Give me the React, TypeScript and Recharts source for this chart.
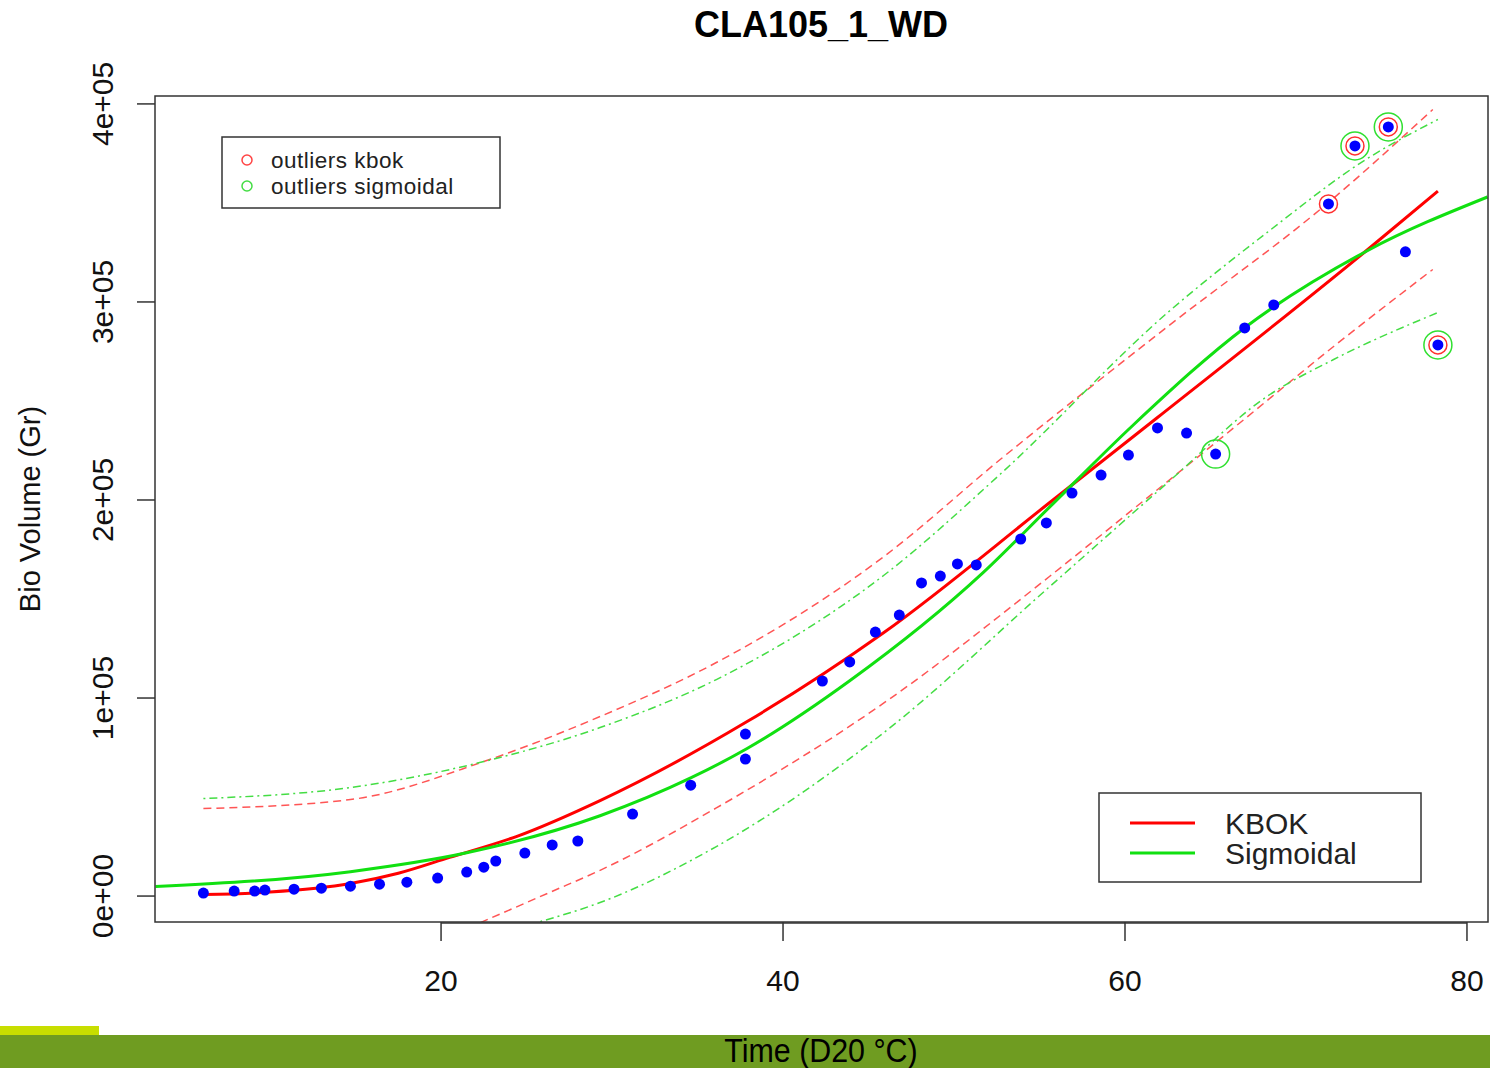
import React from 'react';
import { ComposedChart, Line, Scatter, XAxis, YAxis } from 'recharts';

// observed bio volume
const timeValues = [6.1, 7.9, 9.1, 9.7, 11.4, 13.0, 14.7, 16.4, 18.0, 19.8, 21.5, 22.5, 23.2, 24.9, 26.5, 28.0, 31.2, 34.6, 37.8, 37.8, 42.3, 43.9, 45.4, 46.8, 48.1, 49.2, 50.2, 51.3, 53.9, 55.4, 56.9, 58.6, 60.2, 61.9, 63.6, 65.3, 67.0, 68.7, 71.9, 73.45, 75.4, 76.4, 78.3];
const bioVolume = [1500, 2500, 2500, 3000, 3500, 4000, 5000, 6000, 7000, 9100, 12100, 14600, 17700, 21700, 25800, 27800, 41400, 56000, 81800, 69200, 108600, 118200, 133300, 141900, 158100, 161600, 167700, 167200, 180300, 188400, 203500, 212600, 222700, 236400, 233800, 223200, 286900, 298500, 349500, 378800, 388400, 325300, 278300];
const outliersKbok = [38, 39, 40, 42];
const outliersSigmoidal = [35, 39, 40, 42];

// KBOK fit and its band
const kbokTime = [6.1, 10.0, 14.7, 17.5, 20.5, 24.4, 29.3, 37.9, 45.9, 55.6, 61.9, 74.2, 78.3];
const kbokFit = [800, 2000, 6300, 11500, 19500, 30050, 48230, 88120, 133070, 198720, 241640, 326480, 356000];
const kbokUpperTime = [6.1, 14.7, 22.5, 29.3, 36.1, 45.9, 52.7, 62.5, 71.9, 78.0];
const kbokUpper = [44190, 48730, 67920, 90650, 117920, 171450, 220430, 287600, 350220, 397180];
const kbokLowerTime = [22.3, 26.4, 29.3, 36.1, 45.9, 55.6, 60.5, 66.3, 72.2, 78.0];
const kbokLower = [-13400, 2000, 13000, 44500, 97500, 161500, 195500, 236000, 277500, 316400];

// sigmoidal fit and its band
const sigTime = [3.3, 14.7, 21.5, 29.3, 34.6, 37.9, 43.9, 51.7, 55.6, 60.5, 67.0, 74.2, 81.2];
const sigFit = [4800, 12320, 21840, 40560, 59640, 74490, 108690, 163290, 196500, 238000, 287000, 326000, 353000];
const sigUpperTime = [6.1, 14.7, 22.5, 29.3, 36.1, 45.9, 52.7, 62.5, 68.3, 74.1, 78.3];
const sigUpper = [49240, 54790, 67920, 85090, 109330, 162000, 213000, 294670, 335000, 372000, 392130];
const sigLowerTime = [25.8, 29.3, 36.1, 45.9, 55.6, 62.5, 68.3, 72.2, 78.3];
const sigLower = [-12900, -3280, 25000, 82570, 156300, 208820, 252250, 270930, 294670];

const xTicks = [20, 40, 60, 80];
const yTicks = [0, 100000, 200000, 300000, 400000];
const yTickLabels = ['0e+00', '1e+05', '2e+05', '3e+05', '4e+05'];

const zip = (xs: number[], ys: number[]) => xs.map((x, i) => ({ x, y: ys[i] }));

const points = zip(timeValues, bioVolume);
const kbokPts = outliersKbok.map((i) => points[i]);
const sigPts = outliersSigmoidal.map((i) => points[i]);

const FONT = '"Liberation Sans", Arial, sans-serif';

const XTick = (props: any) => {
  const { x, y, payload } = props;
  return (
    <text x={x} y={y + 37} textAnchor="middle" dominantBaseline="central" fontSize={30} fontFamily={FONT} fill="#111">
      {payload.value}
    </text>
  );
};

const YTick = (props: any) => {
  const { x, y, payload } = props;
  const label = yTickLabels[yTicks.indexOf(payload.value)];
  return (
    <text transform={`translate(${x - 35},${y}) rotate(-90)`} textAnchor="middle" dominantBaseline="central" fontSize={30} fontFamily={FONT} fill="#111">
      {label}
    </text>
  );
};

const dot = (props: any) => <circle cx={props.cx} cy={props.cy} r={5.5} fill="#0000ff" />;
const redRing = (props: any) => <circle cx={props.cx} cy={props.cy} r={9} fill="none" stroke="#ff3030" strokeWidth={1.5} />;
const greenRing = (props: any) => <circle cx={props.cx} cy={props.cy} r={14} fill="none" stroke="#30e030" strokeWidth={1.5} />;

export default function App() {
  return (
    <div style={{ position: 'absolute', left: 0, top: 0, width: 1490, height: 1068, background: '#fff', overflow: 'hidden' }}>
      <ComposedChart width={1490} height={1035} margin={{ top: 96, right: 2, bottom: 0, left: 0 }}>
        <XAxis
          type="number"
          dataKey="x"
          domain={[3.27, 81.23]}
          ticks={xTicks}
          allowDataOverflow
          height={113}
          tickSize={19}
          tickLine={{ stroke: '#333', strokeWidth: 1.5 }}
          axisLine={false}
          tick={XTick}
        />
        <YAxis
          type="number"
          dataKey="y"
          domain={[-13100, 404000]}
          ticks={yTicks}
          allowDataOverflow
          width={155}
          tickSize={18}
          tickMargin={0}
          tickLine={{ stroke: '#333', strokeWidth: 1.5 }}
          axisLine={false}
          tick={YTick}
        />
        <Scatter data={points} shape={dot} isAnimationActive={false} />
        <Scatter data={kbokPts} shape={redRing} isAnimationActive={false} />
        <Scatter data={sigPts} shape={greenRing} isAnimationActive={false} />
        <Line data={zip(kbokUpperTime, kbokUpper)} dataKey="y" type="monotone" dot={false} stroke="#ff5555" strokeWidth={1.5} strokeDasharray="8 5" isAnimationActive={false} />
        <Line data={zip(kbokLowerTime, kbokLower)} dataKey="y" type="monotone" dot={false} stroke="#ff5555" strokeWidth={1.5} strokeDasharray="8 5" isAnimationActive={false} />
        <Line data={zip(sigUpperTime, sigUpper)} dataKey="y" type="monotone" dot={false} stroke="#44dd44" strokeWidth={1.5} strokeDasharray="2 4 8 4" isAnimationActive={false} />
        <Line data={zip(sigLowerTime, sigLower)} dataKey="y" type="monotone" dot={false} stroke="#44dd44" strokeWidth={1.5} strokeDasharray="2 4 8 4" isAnimationActive={false} />
        <Line data={zip(kbokTime, kbokFit)} dataKey="y" type="monotone" dot={false} stroke="#ff0000" strokeWidth={3} isAnimationActive={false} />
        <Line data={zip(sigTime, sigFit)} dataKey="y" type="monotone" dot={false} stroke="#11e011" strokeWidth={3} isAnimationActive={false} />
      </ComposedChart>

      <div style={{ position: 'absolute', left: 0, top: 1026, width: 99, height: 10, background: '#c8de00' }} />
      <div style={{ position: 'absolute', left: 0, top: 1035, width: 1490, height: 33, background: '#6f9c21' }} />

      <svg width={1490} height={1068} style={{ position: 'absolute', left: 0, top: 0, pointerEvents: 'none' }} fontFamily={FONT}>
        <text x={821} y={24} textAnchor="middle" dominantBaseline="central" fontSize={36} fontWeight="bold" fill="#000">
          CLA105_1_WD
        </text>
        <rect x={155} y={96} width={1333} height={826} fill="none" stroke="#333" strokeWidth={1.5} />
        <line x1={441} y1={923} x2={1467} y2={923} stroke="#333" strokeWidth={1.5} />
        <text transform="translate(30,509) rotate(-90)" textAnchor="middle" dominantBaseline="central" fontSize={29} fill="#111">
          Bio Volume (Gr)
        </text>
        <text x={821} y={1050} textAnchor="middle" dominantBaseline="central" fontSize={32} fill="#000" transform="translate(821,1050) scale(0.95,1.05) translate(-821,-1050)">
          Time (D20 °C)
        </text>

        <rect x={222} y={137} width={278} height={71} fill="#fff" stroke="#333" strokeWidth={1.5} />
        <circle cx={247} cy={160} r={5} fill="none" stroke="#ff4444" strokeWidth={1.5} />
        <circle cx={247} cy={186} r={5} fill="none" stroke="#44dd44" strokeWidth={1.5} />
        <text x={271} y={160} dominantBaseline="central" fontSize={22.5} letterSpacing={0.5} fill="#222">outliers kbok</text>
        <text x={271} y={186} dominantBaseline="central" fontSize={22.5} letterSpacing={0.5} fill="#222">outliers sigmoidal</text>

        <rect x={1099} y={793} width={322} height={89} fill="#fff" stroke="#333" strokeWidth={1.5} />
        <line x1={1130} y1={823} x2={1195} y2={823} stroke="#ff0000" strokeWidth={3} />
        <line x1={1130} y1={853} x2={1195} y2={853} stroke="#11e011" strokeWidth={3} />
        <text x={1225} y={823} dominantBaseline="central" fontSize={30} fill="#222">KBOK</text>
        <text x={1225} y={853} dominantBaseline="central" fontSize={30} fill="#222">Sigmoidal</text>
      </svg>
    </div>
  );
}
